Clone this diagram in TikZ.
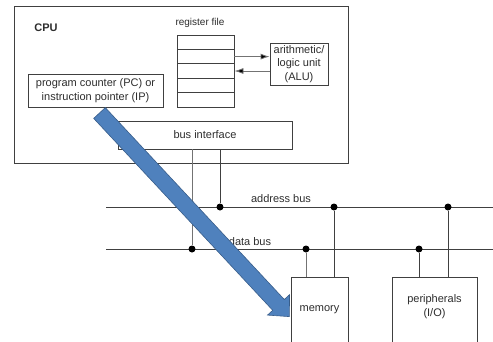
\documentclass[tikz,border=0pt]{standalone}
\usepackage{fontspec}
\setmainfont{Liberation Sans}
\usetikzlibrary{calc,arrows.meta}
\definecolor{linegray}{RGB}{64,64,64}
\definecolor{textgray}{RGB}{45,45,45}
\definecolor{arrowblue}{RGB}{79,129,189}
\definecolor{arrowedge}{RGB}{56,93,138}
\tikzset{
  box/.style={draw=linegray, line width=0.8pt, fill=white, inner sep=0pt,
    align=center, text=textgray, font=\fontsize{11}{13.5}\selectfont},
  regcell/.style={draw=linegray, line width=0.8pt, minimum width=57pt,
    minimum height=14.4pt, inner sep=0pt},
  wire/.style={draw=linegray, line width=0.8pt},
  lightwire/.style={draw=black!55, line width=0.8pt},
  regarrow/.style={lightwire, -{Latex[length=9pt,width=6pt,fill=black]}},
  dot/.style={circle, fill=black, inner sep=0pt, minimum size=7pt},
  lbl/.style={text=textgray, align=center, inner sep=0pt,
    font=\fontsize{11}{13.5}\selectfont}
}
\begin{document}
\begin{tikzpicture}[x=1pt,y=-1pt]
  \useasboundingbox (0,0) rectangle (493,341);
  % cpu
  \node[box, minimum width=334pt, minimum height=157pt] (cpu) at (181,84.5) {};
  \node[lbl, font=\fontsize{11}{13}\selectfont\bfseries] (cpulbl) at (46,28) {CPU};
  \node[lbl, font=\fontsize{10}{11}\selectfont] (reglbl) at (200,23) {register file};
  \foreach \i in {0,...,4}
    \node[regcell] (r\i) at (205.5,42.2+\i*14.4) {};
  \node[box, minimum width=58pt, minimum height=42pt] (alu) at (299,64)
    {arithmetic/\\logic unit\\(ALU)};
  \draw[regarrow] (r1.east) -- (r1.east -| alu.west);
  \draw[regarrow] (r2.east -| alu.west) -- (r2.east);
  \node[box, minimum width=135pt, minimum height=33pt] (pc) at (95.5,90.5)
    {program counter (PC) or\\instruction pointer (IP)};
  \node[box, minimum width=174pt, minimum height=28pt] (busif) at (205,135)
    {bus interface};
  % buses
  \coordinate (abw) at (106,207);
  \coordinate (abe) at (493,207);
  \coordinate (dbw) at (106,249);
  \coordinate (dbe) at (493,249);
  \draw[wire] (abw) -- (abe);
  \draw[wire] (dbw) -- (dbe);
  \node[lbl] (ablbl) at (281,199) {address bus};
  \node[lbl] (dblbl) at (250,242) {data bus};
  \node[dot] (a1) at (220,207) {};
  \node[dot] (a2) at (334,207) {};
  \node[dot] (a3) at (448,207) {};
  \node[dot] (d1) at (192,249) {};
  \node[dot] (d2) at (306,249) {};
  \node[dot] (d3) at (419,249) {};
  % memory and i/o
  \node[box, minimum width=57pt, minimum height=66pt] (mem) at (319.5,310) {memory};
  \node[box, minimum width=85pt, minimum height=80pt, anchor=north] (periph)
    at (434.5,277) {};
  \node[lbl] (periphlbl) at ($(periph.north)+(0,29.5)$) {peripherals\\(I/O)};
  \draw[wire] (busif.south -| a1) -- (a1);
  \draw[lightwire] (busif.south -| d1) -- (d1);
  \draw[lightwire] (d2) -- (d2 |- mem.north);
  \draw[wire] (a2) -- (a2 |- mem.north);
  \draw[wire] (d3) -- (d3 |- periph.north);
  \draw[wire] (a3) -- (a3 |- periph.north);
  % block arrow
  \draw[fill=arrowblue, draw=arrowedge, line width=0.6pt, line join=miter]
    (105.3,107.6) -- (284.3,299.5) -- (289.5,294.7) -- (289.4,316.6)
    -- (267.5,315.1) -- (272.7,310.3) -- (93.7,118.4) -- cycle;
\end{tikzpicture}
\end{document}
